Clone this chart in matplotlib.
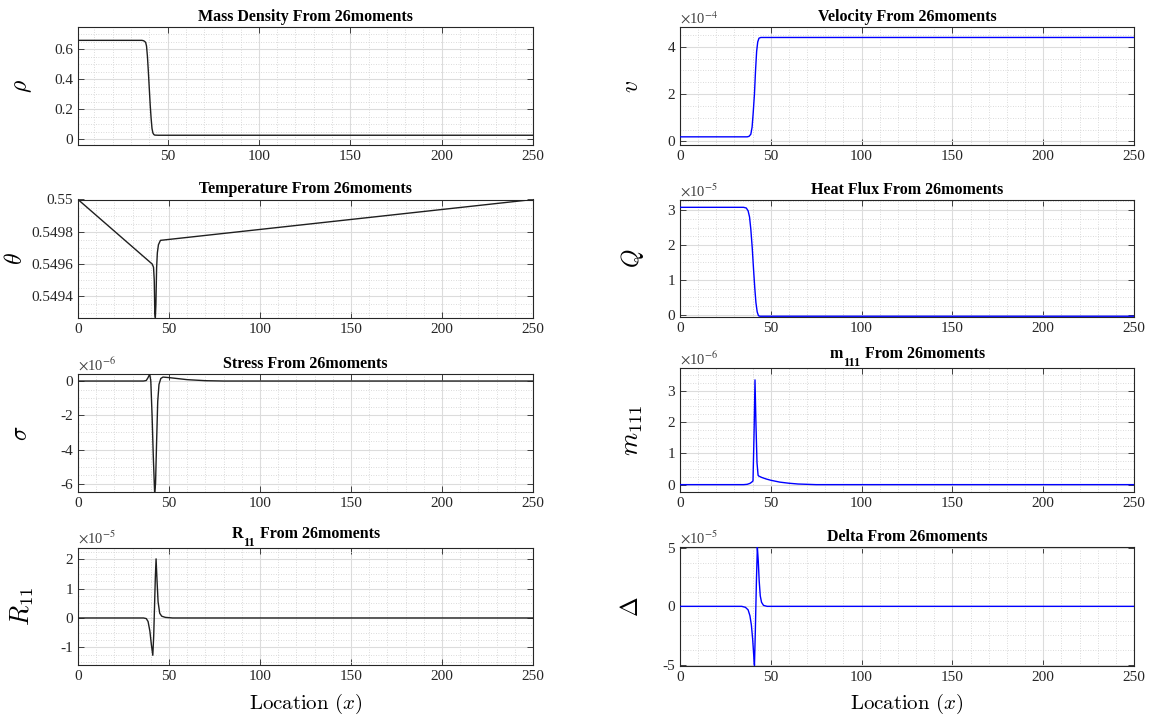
import numpy as np
import matplotlib
matplotlib.use("Agg")
import matplotlib.pyplot as plt
from matplotlib.ticker import FixedLocator, MultipleLocator, AutoMinorLocator, FuncFormatter

plt.rcParams["font.family"] = ["Liberation Serif", "DejaVu Serif"]
plt.rcParams["mathtext.fontset"] = "cm"
plt.rcParams["axes.unicode_minus"] = False

# ---- profiles across the shock (location x) ----
rho_x = [1, 30, 36, 37, 38, 38.5, 39, 39.5, 40, 40.5, 41, 41.5, 42, 42.5, 43, 45, 250]
rho = [0.658, 0.658, 0.658, 0.655, 0.645, 0.62, 0.55, 0.45, 0.34, 0.23, 0.14, 0.07,
       0.04, 0.03, 0.026, 0.025, 0.025]

theta_x = [0, 40.8, 41.5, 41.9, 42.2, 42.5, 42.8, 43.2, 43.6, 44.2, 45.3, 250]
theta = [0.55, 0.54960, 0.54958, 0.54950, 0.54930, 0.549268, 0.54935, 0.54958,
         0.54967, 0.54972, 0.549747, 0.55]

sigma_x = [0, 36, 37.5, 38.5, 39.4, 40, 40.7, 41.4, 42.1, 42.6, 43.2, 43.8, 44.5,
           45.5, 46.7, 50, 55, 60, 70, 80, 250]
sigma = [0, 0, 0.03, 0.2, 0.41, 0.0, -2.0, -4.5, -6.49, -6.0, -3.5, -1.2, -0.2,
         0.15, 0.23, 0.2, 0.14, 0.08, 0.02, 0.0, 0]          # x 1e-6

r11_x = [0, 36, 37.5, 38.5, 39.5, 40.3, 41.1, 41.6, 42.1, 42.5, 42.9, 43.4, 44.0,
         44.9, 46, 48, 52, 250]
r11 = [0, 0, -0.02, -0.12, -0.45, -0.9, -1.27, -0.6, 0.5, 1.4, 2.01, 1.3, 0.55,
       0.16, 0.06, 0.02, 0.0, 0]                              # x 1e-5

vel_x = [0, 37, 38, 39, 39.7, 40.3, 41, 41.6, 42.2, 42.8, 43.5, 44.5, 250]
vel = [0.19, 0.19, 0.21, 0.3, 0.6, 1.2, 2.0, 3.0, 3.8, 4.2, 4.36, 4.39, 4.39]  # x 1e-4

q_x = [0, 35, 36.5, 37.5, 38.3, 39, 39.8, 40.5, 41.2, 41.8, 42.5, 43.2, 44, 250]
q = [3.08, 3.08, 3.06, 2.98, 2.8, 2.45, 1.9, 1.3, 0.75, 0.35, 0.08, -0.03,
     -0.045, -0.045]                                          # x 1e-5

m111_x = [0, 35, 37, 38.5, 39.5, 40.2, 40.8, 41.3, 41.8, 42.4, 43.0, 43.5, 45,
          47.5, 50, 55, 60, 65, 70, 75, 250]
m111 = [0, 0, 0.01, 0.04, 0.08, 0.12, 1.7, 3.35, 2.0, 0.7, 0.3, 0.27, 0.23, 0.18,
        0.14, 0.08, 0.045, 0.02, 0.01, 0, 0]                  # x 1e-6

delta_x = [0, 34, 36, 37.5, 38.5, 39.3, 40.0, 40.6, 41.0, 41.5, 42.1, 42.6, 43.1,
           43.6, 44.2, 44.9, 46, 48, 250]
delta = [0, 0, -0.08, -0.3, -0.8, -1.6, -2.8, -4.2, -5.08, -2.0, 2.3, 5.08, 3.9,
         2.2, 0.9, 0.35, 0.08, 0.0, 0]                        # x 1e-5

x_ticks = [0, 50, 100, 150, 200, 250]

W, H = 1158, 721
fig = plt.figure(figsize=(W / 100, H / 100), dpi=100)
renderer = fig.canvas.get_renderer()

AX_COL = "#262626"
TITLE_FS = 11.5
SUB_FS = 8.8


def add_axes(left, right, top, bottom):
    return fig.add_axes([left / W, 1 - bottom / H, (right - left) / W, (bottom - top) / H])


def subscript_title(ax, base, sub, rest):
    """Bold title with a large, dropped subscript (e.g. R_11 From ...)."""
    pos = ax.get_position()
    cx = (pos.x0 + pos.x1) / 2 * W
    base_y = pos.y1 * H + 10          # baseline of main text, px from bottom
    pieces = [(base, TITLE_FS, 0), (sub, SUB_FS, -8), (rest, TITLE_FS, 0)]
    gaps = [0.5, 4.5, 0]
    arts, widths = [], []
    for s, fs, dy in pieces:
        t = fig.text(0, 0, s, fontsize=fs, fontweight="bold", family="Liberation Serif",
                     ha="left", va="baseline", color="black")
        arts.append(t)
        widths.append(t.get_window_extent(renderer).width)
    total = sum(widths) + sum(gaps)
    x = cx - total / 2
    for t, w, g, (_, _, dy) in zip(arts, widths, gaps, pieces):
        t.set_position((x / W, (base_y + dy) / H))
        x += w + g


panels = [
    # x, y, rect(px: l, r, t, b), xlim, ylim, yticks, title, ylabel, label size,
    # exponent, color, label centre x (px)
    (rho_x, rho, (78, 533, 27, 145), (1, 250), (-0.040, 0.747), [0, 0.2, 0.4, 0.6],
     "Mass Density From 26moments", r"$\rho$", 17, None, "#1f1f1f", 24),
    (theta_x, theta, (78, 533, 199.5, 317.7), (0, 250), (0.549268, 0.55),
     [0.5494, 0.5496, 0.5498, 0.55],
     "Temperature From 26moments", r"$\theta$", 17, None, "#1f1f1f", 16),
    (sigma_x, sigma, (78, 533, 374, 492.3), (0, 250), (-6.49, 0.41), [-6, -4, -2, 0],
     "Stress From 26moments", r"$\sigma$", 17, "-6", "#1f1f1f", 22),
    (r11_x, r11, (78, 533, 547.7, 665.3), (0, 250), (-1.61, 2.39), [-1, 0, 1, 2],
     ("R", "11", "From 26moments"), r"$R_{11}$", 19, "-5", "#1f1f1f", 22),
    (vel_x, vel, (680, 1134, 27.3, 145), (0, 250), (-0.155, 4.82), [0, 2, 4],
     "Velocity From 26moments", r"$v$", 17, "-4", "#0000ff", 632),
    (q_x, q, (680, 1134, 200, 317), (0, 250), (-0.067, 3.29), [0, 1, 2, 3],
     "Heat Flux From 26moments", r"$Q$", 17, "-5", "#0000ff", 632),
    (m111_x, m111, (680, 1134, 368, 492.3), (0, 250), (-0.245, 3.73), [0, 1, 2, 3],
     ("m", "111", "From 26moments"), r"$m_{111}$", 19, "-6", "#0000ff", 634),
    (delta_x, delta, (680, 1134, 547, 665.7), (0, 250), (-5.1, 5.1), [-5, 0, 5],
     "Delta From 26moments", r"$\Delta$", 17, "-5", "#0000ff", 632),
]

for (xs, ys, rect, xlim, ylim, yticks, title, ylabel, ylab_fs, expo, color,
     lab_px) in panels:
    l, r, t, b = rect
    ax = add_axes(l, r, t, b)
    ax.plot(xs, ys, color=color, lw=1.0, zorder=3)
    ax.set_xlim(*xlim)
    ax.set_ylim(*ylim)

    ax.xaxis.set_major_locator(FixedLocator(x_ticks))
    ax.xaxis.set_minor_locator(MultipleLocator(10))
    ax.yaxis.set_major_locator(FixedLocator(yticks))
    ax.yaxis.set_minor_locator(AutoMinorLocator(4))
    ax.yaxis.set_major_formatter(FuncFormatter(lambda v, p: "%g" % round(v, 6)))
    ax.xaxis.set_major_formatter(FuncFormatter(lambda v, p: "%g" % v))

    ax.grid(True, which="major", color="#dcdcdc", lw=0.8, zorder=0)
    ax.grid(True, which="minor", color="#cfcfcf", lw=0.6, ls=(0, (1, 2)), zorder=0)
    ax.set_axisbelow(True)

    ax.tick_params(which="both", direction="in", top=True, right=True, colors=AX_COL,
                   labelsize=11, width=0.6)
    ax.tick_params(which="major", length=4)
    ax.tick_params(which="minor", length=0)
    for sp in ax.spines.values():
        sp.set_color(AX_COL)
        sp.set_linewidth(0.8)
    for lab in ax.get_xticklabels() + ax.get_yticklabels():
        lab.set_family("Liberation Serif")

    if isinstance(title, tuple):
        subscript_title(ax, *title)
    else:
        ax.set_title(title, pad=4.5, color="black", fontsize=TITLE_FS,
                     fontweight="bold", family="Liberation Serif")

    ax.set_ylabel(ylabel, fontsize=ylab_fs, color="black")
    ax.yaxis.label.set_va("center")
    ax.yaxis.set_label_coords((lab_px - l) / (r - l), 0.5)

    if expo is not None:
        ax.text(0.0, 1.005, r"$\times$10$^{%s}$" % expo, transform=ax.transAxes,
                ha="left", va="bottom", fontsize=10.5, color="#404040",
                family="Liberation Serif", math_fontfamily="stix")

    if b > 600:
        ax.set_xlabel(r"$\mathrm{Location}\ (x)$", fontsize=15, color="black", labelpad=6)

fig.savefig("out.png", dpi=100, facecolor="white")
